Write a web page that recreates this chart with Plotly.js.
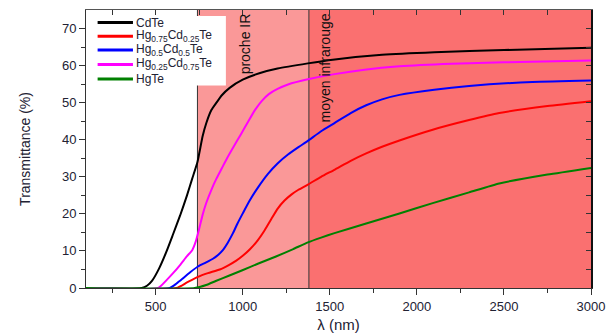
<!DOCTYPE html>
<html>
<head>
<meta charset="utf-8">
<script src="https://cdn.plot.ly/plotly-3.0.1.min.js"></script>
<style>html,body{margin:0;padding:0;background:#fff;}#chart{width:610px;height:336px;}</style>
</head>
<body>
<div id="chart"></div>
<script>
// Wavelength (nm) and transmittance (%) for each compound
const cdteX = [100, 420, 450, 480, 520, 560, 600, 640, 680, 710, 740, 770, 791, 820, 849, 880, 925, 1000, 1100, 1200, 1374, 1517, 1800, 2100, 2500, 3000];
const cdteY = [0, 0, 0.6, 2.0, 5.3, 9.6, 14.5, 19.5, 25, 29.5, 34, 41, 44.5, 48, 50, 52, 54, 56.2, 58, 59.2, 60.6, 61.6, 62.9, 63.6, 64.2, 64.8];

const hg75X = [100, 619, 680, 743, 800, 868, 920, 963, 1000, 1040, 1085, 1126, 1165, 1202, 1240, 1279, 1320, 1374, 1450, 1527, 1620, 1709, 1800, 1900, 2091, 2300, 2473, 2750, 3000];
const hg75Y = [0, 0, 1.5, 3.0, 4.0, 5.0, 6.2, 7.4, 8.7, 10.4, 12.8, 15.6, 18.7, 21.5, 23.6, 25.2, 26.5, 27.9, 30, 31.9, 34.3, 36.3, 38.1, 39.8, 42.7, 45.3, 47.2, 49.1, 50.4];

const hg50X = [100, 581, 620, 657, 700, 743, 790, 829, 860, 887, 915, 944, 970, 1001, 1040, 1090, 1145, 1200, 1260, 1320, 1374, 1450, 1527, 1620, 1709, 1800, 1900, 2100, 2300, 2664, 3000];
const hg50Y = [0, 0, 1.2, 2.6, 4.3, 5.8, 6.9, 7.9, 9, 10.3, 12.3, 14.8, 17.4, 20.2, 23.6, 27.3, 30.8, 33.6, 36, 38, 39.7, 42.3, 44.5, 47.2, 49.3, 50.9, 52.1, 53.5, 54.5, 55.6, 56];

const hg25X = [100, 514, 560, 600, 640, 680, 710, 730, 750, 770, 791, 820, 849, 880, 910, 950, 990, 1030, 1070, 1110, 1150, 1200, 1260, 1374, 1527, 1700, 1900, 2200, 2500, 3000];
const hg25Y = [0, 0, 2, 4, 6.2, 8.6, 10.2, 12.5, 16, 19.8, 23, 26.5, 29.5, 32.3, 35, 38.3, 41.5, 44.8, 48, 50.5, 52.3, 53.7, 54.9, 56.3, 57.7, 58.9, 59.8, 60.5, 60.9, 61.4];

const hgteX = [100, 724, 790, 845, 920, 998, 1090, 1191, 1290, 1374, 1450, 1527, 1709, 1900, 2091, 2300, 2473, 2750, 3000];
const hgteY = [0, 0, 0.8, 1.9, 3.3, 4.8, 6.6, 8.5, 10.5, 12.3, 13.6, 14.8, 17.4, 20.1, 22.9, 25.8, 28.2, 30.6, 32.4];

const seriesNames = ['CdTe', 'Hg<sub>0.75</sub>Cd<sub>0.25</sub>Te', 'Hg<sub>0.5</sub>Cd<sub>0.5</sub>Te', 'Hg<sub>0.25</sub>Cd<sub>0.75</sub>Te', 'HgTe'];
const seriesColors = ['#000000', '#ff0000', '#0000ff', '#ff00ff', '#008000'];

// Spectral regions (nm)
const procheIR = [740, 1380];
const moyenIR = [1380, 3000];
const regionLabels = ['proche IR', 'moyen infrarouge'];

const xs = [cdteX, hg75X, hg50X, hg25X, hgteX];
const ys = [cdteY, hg75Y, hg50Y, hg25Y, hgteY];

const traces = xs.map((x, i) => ({
  x: x, y: ys[i], type: 'scatter', mode: 'lines', name: seriesNames[i], showlegend: false,
  line: {color: seriesColors[i], width: 2, shape: 'spline', smoothing: 0.5}
}));
// invisible trace to carry the mirrored top/right axes
traces.push({x: [100, 3000], y: [0, 75], xaxis: 'x2', yaxis: 'y2', mode: 'markers',
  marker: {opacity: 0}, showlegend: false, hoverinfo: 'skip'});

const tickFont = {family: 'Liberation Sans, Arial, sans-serif', size: 13, color: '#222233'};

// legend box drawn in paper coordinates (compact, as in the figure)
const legRowsY = [0.955, 0.906, 0.856, 0.804, 0.752];
const legendShapes = [{type: 'rect', xref: 'paper', yref: 'paper', x0: 0.004, x1: 0.277, y0: 0.728, y1: 0.978,
  fillcolor: '#ffffff', line: {width: 0}, layer: 'above'}];
const legendAnn = [];
seriesNames.forEach((n, i) => {
  legendShapes.push({type: 'line', xref: 'paper', yref: 'paper', x0: 0.023, x1: 0.093,
    y0: legRowsY[i], y1: legRowsY[i], line: {color: seriesColors[i], width: 3}, layer: 'above'});
  legendAnn.push({text: n, xref: 'paper', yref: 'paper', x: 0.095, y: legRowsY[i], xanchor: 'left',
    yanchor: 'middle', showarrow: false, font: {size: 12, color: '#222233'}});
});

const layout = {
  width: 610, height: 336,
  margin: {l: 86, r: 19, t: 10, b: 48},
  paper_bgcolor: '#ffffff', plot_bgcolor: '#ffffff',
  font: {family: 'Liberation Sans, Arial, sans-serif', color: '#222'},
  showlegend: false,
  xaxis: {range: [100, 3000], showgrid: false, zeroline: false,
    tickmode: 'array', tickvals: [500, 1000, 1500, 2000, 2500, 3000],
    ticks: 'outside', ticklen: 6, tickcolor: '#333', tickwidth: 1,
    minor: {tickvals: [250, 750, 1250, 1750, 2250, 2750], ticks: 'outside', ticklen: 4, tickcolor: '#333'},
    showline: true, linecolor: '#333', linewidth: 1,
    tickfont: tickFont,
    title: {text: 'λ (nm)', font: {size: 15, color: '#222233'}, standoff: 6}},
  yaxis: {range: [0, 75], showgrid: false, zeroline: false,
    tickmode: 'array', tickvals: [0, 10, 20, 30, 40, 50, 60, 70],
    ticks: 'outside', ticklen: 6, tickcolor: '#333', tickwidth: 1,
    minor: {tickvals: [5, 15, 25, 35, 45, 55, 65], ticks: 'outside', ticklen: 4, tickcolor: '#333'},
    showline: true, linecolor: '#333', linewidth: 1,
    tickfont: tickFont,
    title: {text: 'Transmittance (%)', font: {size: 14, color: '#222233'}, standoff: 28}},
  xaxis2: {overlaying: 'x', side: 'top', range: [100, 3000], showgrid: false, zeroline: false,
    tickmode: 'linear', tick0: 250, dtick: 250, ticks: 'inside', ticklen: 5, tickcolor: '#333',
    showticklabels: false, showline: true, linecolor: '#555', linewidth: 1},
  yaxis2: {overlaying: 'y', side: 'right', range: [0, 75], showgrid: false, zeroline: false,
    tickmode: 'linear', tick0: 5, dtick: 5, ticks: 'inside', ticklen: 5, tickcolor: '#333',
    showticklabels: false, showline: true, linecolor: '#111', linewidth: 2},
  shapes: [
    {type: 'rect', xref: 'x', yref: 'paper', x0: procheIR[0], x1: procheIR[1], y0: 0, y1: 1,
      fillcolor: 'rgb(250,152,152)', line: {width: 0}, layer: 'below'},
    {type: 'rect', xref: 'x', yref: 'paper', x0: moyenIR[0], x1: moyenIR[1], y0: 0, y1: 1,
      fillcolor: 'rgb(250,112,112)', line: {width: 0}, layer: 'below'},
    {type: 'line', xref: 'x', yref: 'paper', x0: procheIR[0], x1: procheIR[0], y0: 0, y1: 1,
      line: {color: '#333', width: 1}, layer: 'below'},
    {type: 'line', xref: 'x', yref: 'paper', x0: moyenIR[0], x1: moyenIR[0], y0: 0, y1: 1,
      line: {color: '#333', width: 1}, layer: 'below'}
  ].concat(legendShapes),
  annotations: [
    {text: regionLabels[0], xref: 'x', yref: 'paper', x: 1010, y: 0.995, xanchor: 'center', yanchor: 'top',
      textangle: -90, showarrow: false, font: {size: 14, color: '#111'}},
    {text: regionLabels[1], xref: 'x', yref: 'paper', x: 1470, y: 0.995, xanchor: 'center', yanchor: 'top',
      textangle: -90, showarrow: false, font: {size: 14, color: '#111'}}
  ].concat(legendAnn)
};

Plotly.newPlot('chart', traces, layout, {displayModeBar: false, staticPlot: true});
</script>
</body>
</html>
